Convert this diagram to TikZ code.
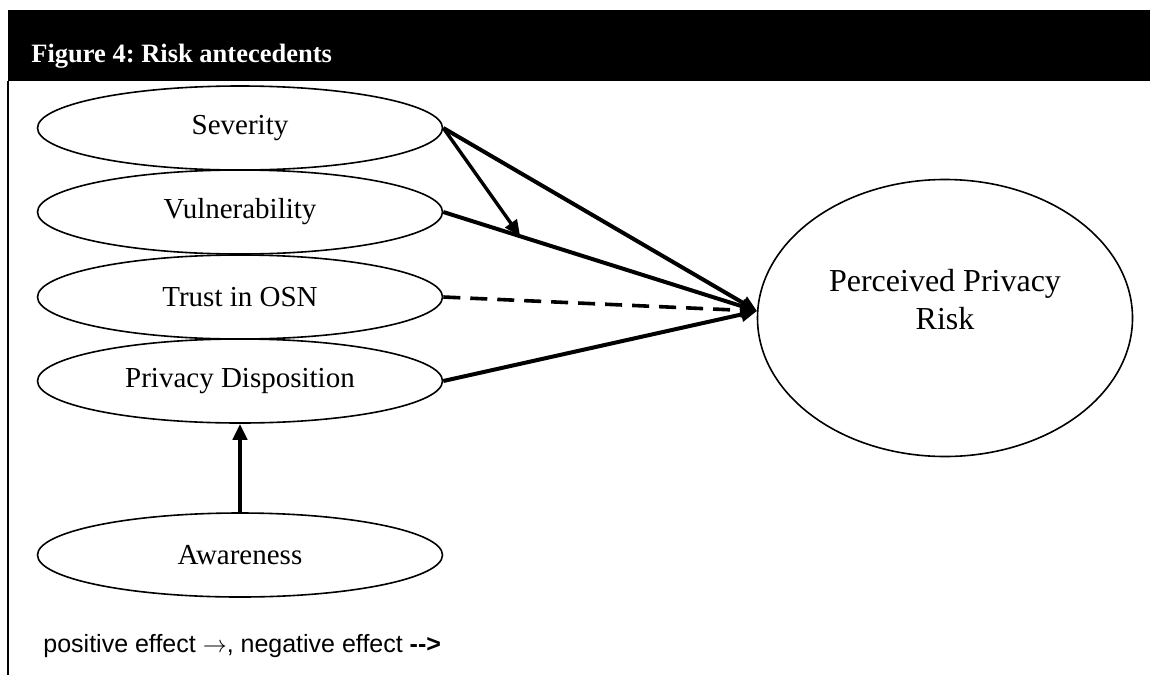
\documentclass[tikz,border=0pt]{standalone}
\usepackage{fontspec}
\setmainfont{Liberation Serif}
\setsansfont{Liberation Sans}
\usetikzlibrary{shapes.geometric,arrows.meta,calc}
\frenchspacing
\begin{document}
\begin{tikzpicture}[x=0.5pt,y=-0.5pt,
  oval/.style={draw, line width=0.8pt, ellipse, inner sep=0pt, minimum width=202.5pt, minimum height=42pt, font=\fontsize{14.5}{17}\selectfont},
  eff/.style={line width=2pt, -{Triangle[length=8pt,width=7pt]}},
  neg/.style={line width=1.8pt, dash pattern=on 8.5pt off 5pt, -{Triangle[length=8pt,width=7pt]}},
]
\useasboundingbox (0,0) rectangle (1150,675);
\fill[black] (8,10) rectangle (1150,81);
\draw[line width=1pt] (8,81) -- (8,675);
\node[anchor=base west, text=white, inner sep=0pt, font=\bfseries\fontsize{13.25}{16}\selectfont] (title) at (31,62) {Figure 4: Risk antecedents};
\node[oval] (sev) at (240,128) {Severity};
\node[oval] (vul) at (240,212) {Vulnerability};
\node[oval] (tru) at (240,297) {Trust in OSN};
\node[oval] (pd) at (240,381) {Privacy Disposition};
\node[oval] (awa) at (240,555) {Awareness};
\node[draw, line width=0.8pt, ellipse, inner sep=0pt, minimum width=187.5pt, minimum height=138.5pt] (ppr) at (945,318) {};
\node[align=center, inner sep=0pt, font=\fontsize{16}{19}\selectfont] (pprt) at (945,300) {Perceived Privacy\\Risk};
\coordinate (tip) at (757,311);
\coordinate (mid) at ($(vul.east)!0.245!(tip)$);
\draw[eff] (sev.east) -- (tip);
\draw[eff] (vul.east) -- (tip);
\draw[neg] (tru.east) -- (tip);
\draw[eff] (pd.east) -- (tip);
\draw[eff, line width=1.7pt] (sev.east) -- (mid);
\draw[eff] (awa.north) -- (pd.south);
\node[anchor=base west, inner sep=0pt, font=\sffamily\fontsize{12.5}{15}\selectfont] (legend) at (43,652) {positive effect $\rightarrow$, negative effect \textbf{-{}-{}>}};
\end{tikzpicture}
\end{document}
